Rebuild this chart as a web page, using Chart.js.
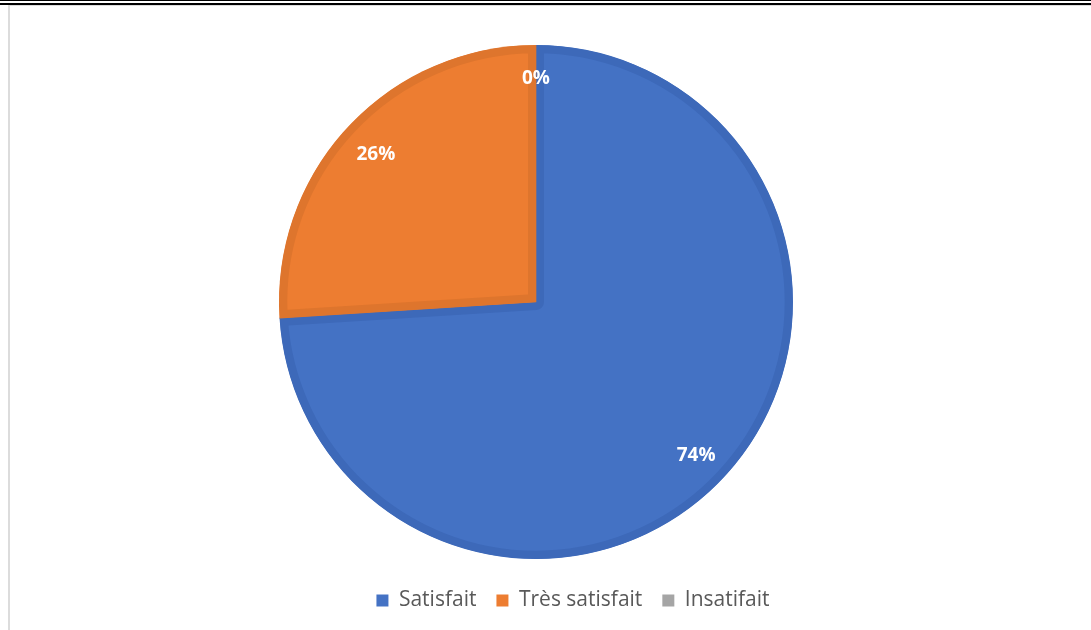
<!DOCTYPE html>
<html>
<head>
<meta charset="utf-8">
<script src="https://cdn.jsdelivr.net/npm/chart.js@4/dist/chart.umd.min.js"></script>
<style>
  html, body { margin: 0; padding: 0; background: #fff; }
  #wrap { position: relative; width: 1091px; height: 630px; overflow: hidden; }
  #pie { position: absolute; left: 0; top: 0; }
  .rule { position: absolute; pointer-events: none; }
</style>
</head>
<body>
<div id="wrap">
  <canvas id="pie" width="1091" height="630"></canvas>
  <div class="rule" style="left:0;top:0;width:1091px;height:1px;background:#000"></div>
  <div class="rule" style="left:0;top:3px;width:1091px;height:2px;background:#000"></div>
  <div class="rule" style="left:8px;top:5px;width:1083px;height:1px;background:#dcdcdc"></div>
  <div class="rule" style="left:8px;top:5px;width:2px;height:625px;background:#dcdcdc"></div>
</div>
<script>
const labels = ['Satisfait', 'Très satisfait', 'Insatifait'];
const values = [74, 26, 0];
const fills = ['#4472C4', '#ED7D31', '#A5A5A5'];
const edges = ['#3D69B9', '#DE752D', '#999999'];

// pourcentages blancs posés dans chaque part
const sliceLabels = {
    id: 'sliceLabels',
    afterDatasetsDraw(chart) {
        const ctx = chart.ctx;
        const meta = chart.getDatasetMeta(0);
        const total = values.reduce((a, b) => a + b, 0);
        ctx.save();
        ctx.fillStyle = '#fff';
        ctx.font = 'bold 19px "Open Sans", sans-serif';
        ctx.textAlign = 'center';
        ctx.textBaseline = 'middle';
        meta.data.forEach((arc, i) => {
            const p = arc.getProps(['x', 'y', 'startAngle', 'endAngle', 'outerRadius'], true);
            const mid = (p.startAngle + p.endAngle) / 2;
            const r = p.outerRadius * (values[i] === 0 ? 0.88 : 0.855);
            const pct = Math.round(values[i] / total * 100) + '%';
            ctx.fillText(pct, p.x + Math.cos(mid) * r, p.y + Math.sin(mid) * r + 3);
        });
        ctx.restore();
    }
};

// la légende est décalée vers la droite par rapport au camembert
const legendShift = {
    id: 'legendShift',
    afterLayout(chart) {
        chart.legend.left += 37;
        chart.legend.right += 37;
    }
};

new Chart(document.getElementById('pie'), {
    type: 'pie',
    data: {
        labels,
        datasets: [{
            data: values,
            backgroundColor: fills,
            borderColor: edges,
            borderWidth: 8,
            borderAlign: 'inner',
            hoverOffset: 0
        }]
    },
    options: {
        responsive: false,
        animation: false,
        radius: 257,
        layout: { padding: { top: 34, bottom: 9, right: 19 } },
        plugins: {
            tooltip: { enabled: false },
            legend: {
                position: 'bottom',
                labels: {
                    boxWidth: 12,
                    boxHeight: 12,
                    padding: 20,
                    color: '#595959',
                    font: { family: '"Open Sans", sans-serif', size: 21 },
                    generateLabels(chart) {
                        return labels.map((text, i) => ({
                            text,
                            index: i,
                            fillStyle: fills[i],
                            strokeStyle: fills[i],
                            lineWidth: 0,
                            fontColor: '#595959',
                            hidden: false
                        }));
                    }
                }
            }
        }
    },
    plugins: [sliceLabels, legendShift]
});
</script>
</body>
</html>
